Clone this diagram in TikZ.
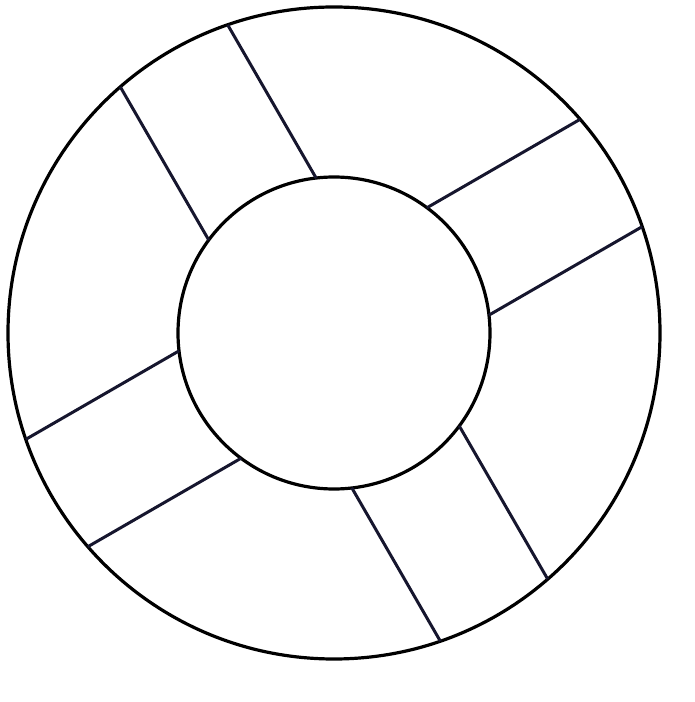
\documentclass[tikz,border=0pt]{standalone}
\usetikzlibrary{calc}
\definecolor{bandline}{HTML}{16162E}
\tikzset{ring/.style={draw=black,line width=3.2pt},
  strap/.style={draw=bandline,line width=3pt}}
\begin{document}
\begin{tikzpicture}[x=1pt,y=1pt]
    \useasboundingbox (0,0) rectangle (694,702);
    \coordinate (c) at (334,369);
    \draw[ring] (c) circle (326);
    \draw[ring] (c) circle (156);
    % straps across the ring
    \foreach \a in {30,120,210,300}{
        \foreach \h in {-62,62}{
            \draw[strap] ($(c)+(\a:143)+(\a-90:\h)$) -- ($(c)+(\a:320)+(\a-90:\h)$);
        }
    }
\end{tikzpicture}
\end{document}
